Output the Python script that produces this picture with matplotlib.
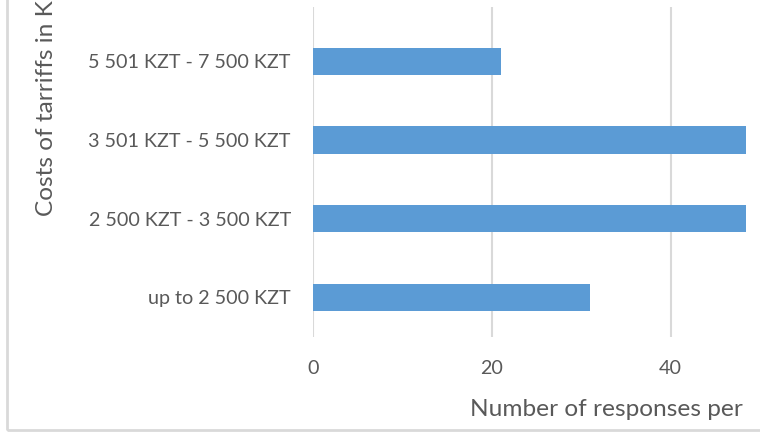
import matplotlib.pyplot as plt
import matplotlib.patches as mpatches

# tariff ranges, bottom to top as drawn
categories = ["up to 2 500 KZT", "2 500 KZT - 3 500 KZT",
              "3 501 KZT - 5 500 KZT", "5 501 KZT - 7 500 KZT"]
responses = [31, 55, 57, 21]   # the two middle bars run off the cropped picture
xticks = [0, 20, 40]

plt.rcParams['font.family'] = ['Lato', 'DejaVu Sans']
txt = '#595959'
grid = '#d9d9d9'

fig = plt.figure(figsize=(7.6, 4.32), dpi=100)
ax = fig.add_axes([313 / 760, 1 - 336.7 / 432, (745.7 - 313) / 760, (336.7 - 7) / 432])

ax.barh(range(len(categories)), responses, height=0.35, color='#5b9bd5', zorder=3)
ax.set_xlim(0, 48.4)
ax.set_ylim(-0.5, 3.69)
ax.set_xticks(xticks)
ax.set_yticks(range(len(categories)))
ax.set_yticklabels(categories)
ax.tick_params(axis='both', length=0, labelsize=14.2, labelcolor=txt)
ax.tick_params(axis='y', pad=16)
ax.tick_params(axis='x', pad=17)
ax.grid(axis='x', color=grid, linewidth=1.5, zorder=0)
for s in ax.spines.values():
    s.set_visible(False)

fig.text(470 / 760, 1 - 410 / 432, "Number of responses per", fontsize=17.6,
         color=txt, ha='left', va='center')
fig.text(47 / 760, 1 - 216 / 432, "Costs of tarriffs in K", fontsize=17.6,
         color=txt, rotation=90, ha='center', va='bottom')

# chart frame, cropped at the top and right
fig.patches.append(mpatches.Rectangle((7 / 760, 2 / 432), 1.2, 1.2, fill=False,
                                      edgecolor=grid, linewidth=2,
                                      transform=fig.transFigure, figure=fig))

fig.savefig('out.png', dpi=100)
